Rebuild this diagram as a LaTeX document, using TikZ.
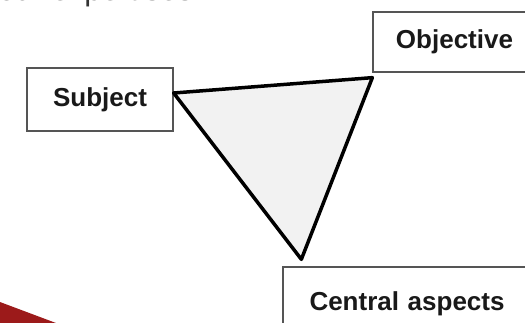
\documentclass[tikz,border=0pt]{standalone}
\usepackage{fontspec}
\setmainfont{Liberation Sans}
\definecolor{boxline}{HTML}{555555}
\definecolor{trifill}{HTML}{F2F2F2}
\definecolor{swoosh}{HTML}{9C1A1A}
\begin{document}
\begin{tikzpicture}[x=1pt,y=-1pt]
\tikzset{
  labelbox/.style={draw=boxline, line width=1.3pt, fill=white, inner sep=0pt,
    font=\fontsize{26}{30}\selectfont\bfseries, text=black!90},
  triedge/.style={draw=black, line width=3.5pt, line join=round, fill=trifill}
}
\useasboundingbox (0,0) rectangle (525,323);
\clip (0,0) rectangle (525,323);
% clipped heading text
\node[anchor=base west, inner sep=0pt, font=\fontsize{31}{34}\selectfont, text=black!80] (head) at (-2,0.5) {our expertises:};
% red swoosh
\fill[swoosh] (0,302) -- (56,323) -- (0,323) -- cycle;
% boxes
\node[labelbox, minimum width=146pt, minimum height=63pt] (subj) at (100,99.5) {Subject};
\node[labelbox, minimum width=167pt, minimum height=60pt] (obj) at (456.5,42) {\hspace*{-2pt}Objective\hspace*{2pt}};
\node[labelbox, minimum width=257pt, minimum height=73pt, text width=240pt] (cent) at (411.5,303.5) {\hspace*{18pt}Central aspects};
% triangle corners
\coordinate (ts) at ([yshift=6.5pt]subj.east);
\coordinate (to) at ([yshift=-5pt]obj.south west);
\coordinate (tc) at ([xshift=19pt,yshift=7pt]cent.north west);
\draw[triedge] (ts) -- (to) -- (tc) -- cycle;
\end{tikzpicture}
\end{document}
